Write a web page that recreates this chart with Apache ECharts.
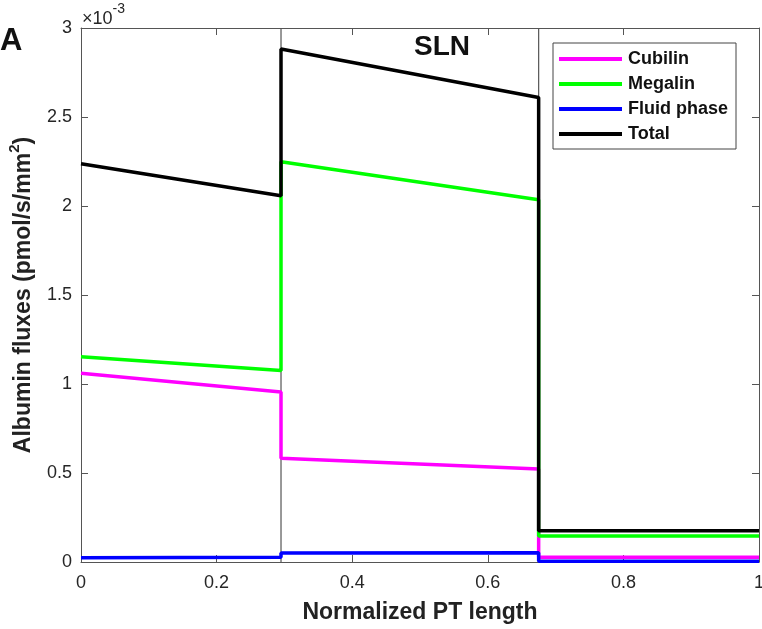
<!DOCTYPE html>
<html>
<head>
<meta charset="utf-8">
<script src="https://cdn.jsdelivr.net/npm/echarts@6/dist/echarts.min.js"></script>
<style>html,body{margin:0;padding:0;background:#fff}#c{width:762px;height:629px}</style>
</head>
<body>
<div id="c"></div>
<script>
// Values in units of 1e-3 pmol/s/mm^2
const xPoints  = [0, 0.295, 0.295, 0.675, 0.675, 1];
const cubilin  = [1.060, 0.955, 0.583, 0.523, 0.026, 0.026];
const megalin  = [1.153, 1.076, 2.249, 2.035, 0.146, 0.146];
const fluid    = [0.024, 0.027, 0.050, 0.052, 0.004, 0.004];
const total    = [2.237, 2.058, 2.882, 2.610, 0.176, 0.176];
const boundaries = [0.295, 0.675];
const xTicks = [0, 0.2, 0.4, 0.6, 0.8, 1];
const yTicks = [0, 0.5, 1, 1.5, 2, 2.5, 3];
const seriesNames = ['Cubilin', 'Megalin', 'Fluid phase', 'Total'];
const seriesColors = ['#ff00ff', '#00ff00', '#0000ff', '#000000'];

const FONT = "'Liberation Sans', Arial, Helvetica, sans-serif";
const pairs = arr => xPoints.map((x, i) => [x, arr[i]]);
const allData = [cubilin, megalin, fluid, total];
const yMin = yTicks[0], yMax = yTicks[yTicks.length - 1];

const chart = echarts.init(document.getElementById('c'));
const axisLineStyle = { color: '#555', width: 1 };
const series = boundaries.map((b, i) => ({
  name: 'bound' + i, type: 'line', data: [[b, yMin], [b, yMax]], symbol: 'none',
  lineStyle: { color: '#555', width: 1.2 }, z: 2, silent: true, animation: false
}));
seriesNames.forEach((n, i) => series.push({
  name: n, type: 'line', data: pairs(allData[i]), symbol: 'none',
  lineStyle: { color: seriesColors[i], width: 3.5 }, itemStyle: { color: seriesColors[i] },
  z: 3 + i, animation: false
}));

chart.setOption({
  animation: false,
  textStyle: { fontFamily: FONT },
  grid: { left: 81, top: 28, right: 3, bottom: 67, containLabel: false, outerBoundsMode: 'none' },
  xAxis: [{
    type: 'value', min: 0, max: 1, interval: 0.2,
    name: 'Normalized PT length', nameLocation: 'middle', nameGap: 39,
    nameTextStyle: { fontSize: 23, fontWeight: 'bold', color: '#222', fontFamily: FONT },
    axisLine: { onZero: false, lineStyle: axisLineStyle }, splitLine: { show: false },
    axisTick: { inside: true, length: 7, lineStyle: axisLineStyle },
    axisLabel: { fontSize: 18, color: '#262626', margin: 12, fontFamily: FONT,
      formatter: v => xTicks.includes(+v.toFixed(2)) ? String(+v.toFixed(2)) : '' }
  }, {
    type: 'value', min: 0, max: 1, interval: 0.2, position: 'top',
    axisLine: { show: true, onZero: false, lineStyle: axisLineStyle }, splitLine: { show: false },
    axisTick: { inside: true, length: 7, lineStyle: axisLineStyle }, axisLabel: { show: false }
  }],
  yAxis: [{
    type: 'value', min: 0, max: 3, interval: 0.5,
    name: '{a|Albumin fluxes (pmol/s/mm}{b|2}{a|)}', nameLocation: 'middle', nameGap: 46,
    nameTextStyle: { rich: {
      a: { fontSize: 23, fontWeight: 'bold', color: '#222', fontFamily: FONT, lineHeight: 28, verticalAlign: 'bottom' },
      b: { fontSize: 15, fontWeight: 'bold', color: '#222', fontFamily: FONT, lineHeight: 28, verticalAlign: 'top' } } },
    axisLine: { show: true, onZero: false, lineStyle: axisLineStyle }, splitLine: { show: false },
    axisTick: { inside: true, length: 7, lineStyle: axisLineStyle },
    axisLabel: { fontSize: 18, color: '#262626', margin: 9, fontFamily: FONT,
      formatter: v => yTicks.includes(+v.toFixed(2)) ? String(+v.toFixed(2)) : '' }
  }, {
    type: 'value', min: 0, max: 3, interval: 0.5, position: 'right',
    axisLine: { show: true, onZero: false, lineStyle: axisLineStyle }, splitLine: { show: false },
    axisTick: { inside: true, length: 7, lineStyle: axisLineStyle }, axisLabel: { show: false }
  }],
  legend: {
    data: seriesNames, orient: 'vertical', left: 553, top: 43,
    padding: [7, 8, 6, 6], itemGap: 7, itemWidth: 63, itemHeight: 4,
    icon: 'rect', borderColor: '#444', borderWidth: 1, backgroundColor: '#fff',
    textStyle: { fontSize: 18, fontWeight: 'bold', color: '#111', fontFamily: FONT, lineHeight: 18, padding: [0, 0, 0, 1] }
  },
  graphic: [
    { type: 'text', left: 0, top: 26, style: { text: 'A', font: "bold 31px 'Liberation Sans', Arial", fill: '#111' } },
    { type: 'text', left: 414, top: 33, style: { text: 'SLN', font: "bold 28px 'Liberation Sans', Arial", fill: '#111' } },
    { type: 'text', left: 82, top: 2, style: {
      text: '{a|×10}{b|-3}',
      rich: { a: { fontSize: 18, fontFamily: FONT, fill: '#262626', color: '#262626', lineHeight: 26, verticalAlign: 'bottom' },
              b: { fontSize: 14, fontFamily: FONT, fill: '#262626', color: '#262626', lineHeight: 26, verticalAlign: 'top' } } } }
  ],
  series: series
});
</script>
</body>
</html>
